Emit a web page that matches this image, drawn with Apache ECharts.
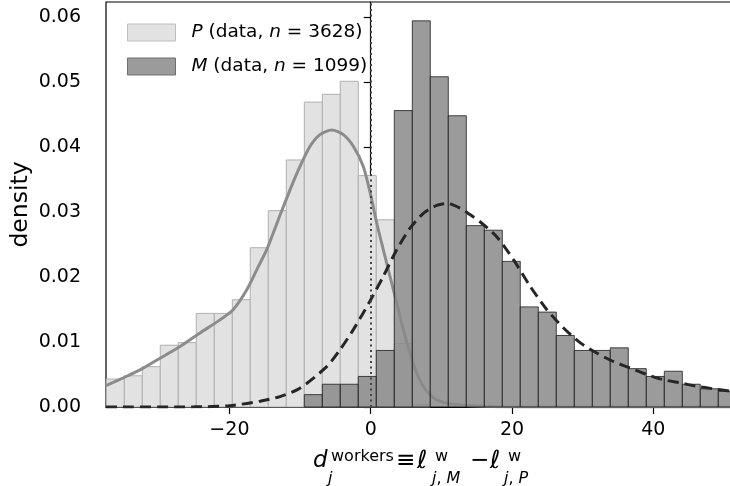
<!DOCTYPE html>
<html>
<head>
<meta charset="utf-8">
<script src="https://cdn.jsdelivr.net/npm/echarts@6/dist/echarts.min.js"></script>
<style>
html,body{margin:0;padding:0;background:#fff;}
#chart{width:730px;height:486px;}
</style>
</head>
<body>
<div id="chart"></div>
<script>
// ---- data ----
const binEdges = [-37.43, -34.88, -32.33, -29.79, -27.24, -24.69, -22.14, -19.59, -17.05, -14.50,
  -11.95, -9.40, -6.85, -4.31, -1.76, 0.79, 3.34, 5.89, 8.43, 10.98, 13.53, 16.08, 18.63, 21.17,
  23.72, 26.27, 28.82, 31.37, 33.91, 36.46, 39.01, 41.56, 44.11, 46.65, 49.20, 51.75];
const pDensity = [0.0043, 0.0048, 0.0062, 0.0095, 0.0099, 0.0144, 0.0144, 0.0165, 0.0245, 0.0302,
  0.0380, 0.0469, 0.0481, 0.0501, 0.0356, 0.0288, 0.0098, 0.0004];
const mDensity = [0, 0, 0, 0, 0, 0, 0, 0, 0, 0, 0,
  0.0019, 0.0035, 0.0035, 0.0047, 0.0087, 0.0456, 0.0594, 0.0508, 0.0448, 0.0279, 0.0272, 0.0224,
  0.0154, 0.0146, 0.0110, 0.0087, 0.0087, 0.0091, 0.0059, 0.0047, 0.0055, 0.0035, 0.0028, 0.0024];
const pCurve = [[-37.47, 0.0033], [-35.0, 0.0045], [-32.65, 0.0057], [-29.82, 0.0075], [-26.99, 0.0093],
  [-24.16, 0.0114], [-21.33, 0.0134], [-19.45, 0.0150], [-17.56, 0.0180], [-16.14, 0.0211],
  [-14.72, 0.0242], [-12.84, 0.0295], [-11.42, 0.0334], [-10.01, 0.0370], [-8.59, 0.0401],
  [-7.18, 0.0419], [-5.5, 0.0426], [-3.88, 0.0419], [-2.46, 0.0401], [-1.05, 0.0370], [0, 0.0326],
  [0.85, 0.0283], [1.78, 0.0242], [2.73, 0.0201], [3.68, 0.0160], [4.61, 0.0119], [5.56, 0.0083],
  [6.51, 0.0052], [7.45, 0.0032], [8.39, 0.0019], [9.34, 0.0011], [11.22, 0.0005], [14.05, 0.0002],
  [18.0, 0.00005], [25.0, 0], [51.2, 0]];
const mCurve = [[-37.47, 0], [-25.0, 0.00002], [-20.0, 0.0002], [-15.67, 0.0009], [-12.84, 0.0016],
  [-10.01, 0.0029], [-6.23, 0.0062], [-4.35, 0.0088], [-2.46, 0.0119], [-0.1, 0.0163], [1.78, 0.0201],
  [3.68, 0.0242], [5.56, 0.0275], [7.45, 0.0298], [9.34, 0.0310], [10.9, 0.0313], [12.64, 0.0306],
  [14.05, 0.0296], [15.47, 0.0285], [17.83, 0.0262], [20.18, 0.0227], [22.55, 0.0186], [24.91, 0.0150],
  [27.26, 0.0122], [29.63, 0.0099], [31.99, 0.0083], [34.34, 0.0070], [36.70, 0.0060], [39.07, 0.0050],
  [41.42, 0.0042], [43.78, 0.0037], [46.14, 0.0032], [48.5, 0.0028], [51.2, 0.0024]];
const xTicks = [-20, 0, 20, 40];
const yTicks = [0, 0.01, 0.02, 0.03, 0.04, 0.05, 0.06];
const seriesNames = ['P', 'M'];
const sampleSizes = [3628, 1099];
const refLine = [0];

// ---- build ----
const FONT = '"DejaVu Sans", sans-serif';
function histData(vals) {
  const out = [];
  vals.forEach((v, i) => { if (v > 0) out.push([binEdges[i], binEdges[i + 1], v]); });
  return out;
}
function histSeries(name, vals, fill, stroke, z) {
  return {
    type: 'custom', name: name, z: z,
    itemStyle: { color: fill, borderColor: stroke, borderWidth: 1 },
    encode: { x: [0, 1], y: 2 },
    data: histData(vals),
    renderItem: function (params, api) {
      const p0 = api.coord([api.value(0), api.value(2)]);
      const p1 = api.coord([api.value(1), 0]);
      return {
        type: 'rect',
        shape: { x: p0[0], y: p0[1], width: p1[0] - p0[0], height: p1[1] - p0[1] },
        style: { fill: fill, stroke: stroke, lineWidth: 1 }
      };
    }
  };
}
const chart = echarts.init(document.getElementById('chart'), null, { renderer: 'canvas' });
const fmtMinus = v => String(v).replace('-', '\u2212');
const LEG = 18.5;
const option = {
  animation: false,
  backgroundColor: '#fff',
  grid: { left: 106, top: 2, width: 626, height: 405, show: true, borderColor: '#000', borderWidth: 1.2,
          containLabel: false, outerBoundsMode: 'none' },
  xAxis: {
    type: 'value', min: -37.47, max: 51.14,
    axisLine: { show: true, lineStyle: { color: '#000', width: 1.2 } },
    axisTick: { show: true, length: 7, lineStyle: { color: '#000', width: 1.2 }, customValues: xTicks },
    axisLabel: { show: true, customValues: xTicks, formatter: fmtMinus, fontFamily: FONT, fontSize: 19, color: '#000', margin: 14 },
    splitLine: { show: false }
  },
  yAxis: {
    type: 'value', min: 0, max: 0.0623,
    name: 'density', nameLocation: 'middle', nameGap: 73, nameMoveOverlap: false,
    nameTextStyle: { fontFamily: FONT, fontSize: 23.5, color: '#000' },
    axisLine: { show: true, lineStyle: { color: '#000', width: 1.2 } },
    axisTick: { show: true, length: 7, lineStyle: { color: '#000', width: 1.2 }, customValues: yTicks },
    axisLabel: { show: true, customValues: yTicks, formatter: v => v.toFixed(2), fontFamily: FONT, fontSize: 19, color: '#000', margin: 25 },
    splitLine: { show: false }
  },
  legend: {
    left: 127, top: 23, orient: 'vertical', padding: 0,
    itemWidth: 48, itemHeight: 17, itemGap: 15,
    data: [
      { name: seriesNames[0], icon: 'rect', itemStyle: { color: '#e2e2e2', borderColor: '#bdbdbd', borderWidth: 1 } },
      { name: seriesNames[1], icon: 'rect', itemStyle: { color: '#9b9b9b', borderColor: '#6e6e6e', borderWidth: 1 } }
    ],
    formatter: function (name) {
      const k = seriesNames.indexOf(name);
      return '{s|}{i|' + name + '}{r| (data, }{i|n}{r| = ' + sampleSizes[k] + ')}';
    },
    textStyle: {
      fontFamily: FONT, fontSize: LEG, color: '#000',
      rich: {
        s: { width: 11, fontSize: LEG, fontFamily: FONT },
        i: { fontStyle: 'italic', fontFamily: FONT, fontSize: LEG, color: '#000' },
        r: { fontFamily: FONT, fontSize: LEG, color: '#000' }
      }
    }
  },
  series: [
    histSeries(seriesNames[0], pDensity, '#e2e2e2', '#b0b0b0', 1),
    {
      type: 'line', name: 'P fit', data: pCurve, showSymbol: false, smooth: 0.25, z: 2,
      lineStyle: { color: '#8c8c8c', width: 3 }, silent: true
    },
    histSeries(seriesNames[1], mDensity, 'rgba(137,137,137,0.85)', 'rgba(30,30,30,0.8)', 3),
    {
      type: 'line', name: 'M fit', data: mCurve, showSymbol: false, smooth: 0.25, z: 4,
      lineStyle: { color: '#262626', width: 3, type: [11, 6] }, silent: true,
      markLine: {
        silent: true, symbol: 'none', label: { show: false },
        lineStyle: { color: '#444', width: 2, type: [2, 3.5] },
        data: refLine.map(v => ({ xAxis: v }))
      }
    }
  ],
  graphic: [
    { type: 'text', x: 313, y: 473, style: { text: 'd', font: 'italic 23px ' + FONT, fill: '#000', verticalAlign: 'bottom' } },
    { type: 'text', x: 331, y: 465, style: { text: 'workers', font: '16px ' + FONT, fill: '#000', verticalAlign: 'bottom' } },
    { type: 'text', x: 328, y: 487, style: { text: 'j', font: 'italic 16px ' + FONT, fill: '#000', verticalAlign: 'bottom' } },
    { type: 'text', x: 396, y: 473, style: { text: '\u2261', font: '23px ' + FONT, fill: '#000', verticalAlign: 'bottom' } },
    { type: 'text', x: 417, y: 474, style: { text: '\u2113', font: 'italic 25px ' + FONT, fill: '#000', verticalAlign: 'bottom' } },
    { type: 'text', x: 435, y: 465, style: { text: 'w', font: '16px ' + FONT, fill: '#000', verticalAlign: 'bottom' } },
    { type: 'text', x: 432, y: 487, style: { text: '{i|j}{r|, }{i|M}', font: '16px ' + FONT, fill: '#000', verticalAlign: 'bottom',
      rich: { i: { fontStyle: 'italic', fontFamily: FONT, fontSize: 16 }, r: { fontFamily: FONT, fontSize: 16 } } } },
    { type: 'text', x: 470, y: 473, style: { text: '\u2212', font: '23px ' + FONT, fill: '#000', verticalAlign: 'bottom' } },
    { type: 'text', x: 490, y: 474, style: { text: '\u2113', font: 'italic 25px ' + FONT, fill: '#000', verticalAlign: 'bottom' } },
    { type: 'text', x: 508, y: 465, style: { text: 'w', font: '16px ' + FONT, fill: '#000', verticalAlign: 'bottom' } },
    { type: 'text', x: 504, y: 487, style: { text: '{i|j}{r|, }{i|P}', font: '16px ' + FONT, fill: '#000', verticalAlign: 'bottom',
      rich: { i: { fontStyle: 'italic', fontFamily: FONT, fontSize: 16 }, r: { fontFamily: FONT, fontSize: 16 } } } }
  ]
};
chart.setOption(option);
</script>
</body>
</html>
